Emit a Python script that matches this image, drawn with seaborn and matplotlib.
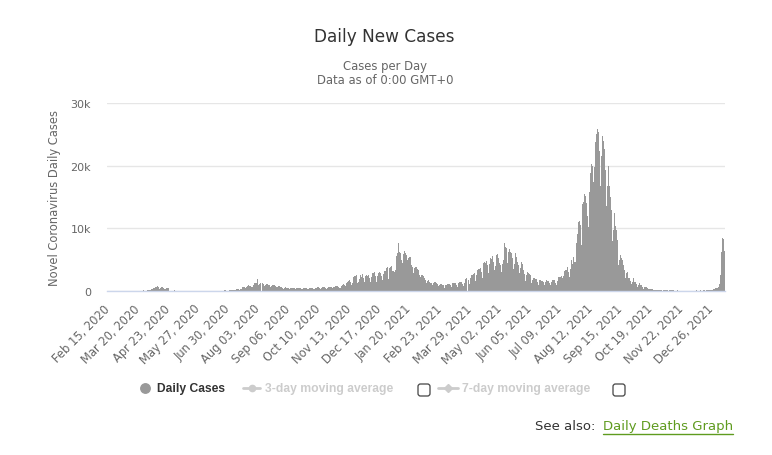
import matplotlib
matplotlib.use("Agg")
import matplotlib.pyplot as plt
import matplotlib.transforms as mtransforms
from matplotlib.lines import Line2D
from matplotlib.patches import FancyBboxPatch
from matplotlib.ticker import FuncFormatter
import numpy as np
import pandas as pd
import seaborn as sns

# --- data: daily new cases, one row per week starting Sat Feb 15, 2020 ---
first_day = "2020-02-15"
daily_cases = [
    1, 3, 7, 6, 10, 12, 9,                 # Feb 15
    5, 12, 14, 10, 20, 11, 25,
    8, 22, 20, 15, 33, 25, 34,
    27, 35, 26, 40, 59, 30, 40,            # Mar 07
    55, 35, 15, 20, 40, 40, 60,
    45, 42, 35, 55, 40, 80, 90,
    60, 70, 55, 80, 90, 160, 220,
    300, 240, 260, 450, 520, 580, 640,     # Apr 04
    720, 560, 380, 390, 520, 560, 600,
    460, 380, 330, 380, 420, 480, 470,
    70, 45, 40, 60, 70, 55, 150,
    60, 50, 30, 40, 35, 45, 40,            # May 02
    40, 25, 15, 20, 30, 35, 40,
    30, 20, 15, 25, 20, 25, 35,
    20, 15, 10, 20, 30, 25, 40,
    40, 35, 30, 35, 40, 45, 40,            # May 30
    50, 45, 30, 40, 50, 45, 50,
    55, 40, 35, 45, 60, 55, 65,
    70, 55, 40, 60, 75, 70, 80,
    85, 60, 50, 65, 80, 90, 160,
    110, 90, 80, 100, 110, 330, 380,       # Jul 04
    350, 250, 200, 290, 380, 640, 600,
    620, 500, 460, 660, 800, 900, 850,
    820, 700, 620, 1000, 1300, 1250, 1320,
    1250, 1850, 1000, 1100, 1250, 1400, 1200,  # Aug 01
    1300, 1050, 850, 950, 1100, 1050, 1000,
    1000, 900, 650, 850, 950, 900, 880,
    800, 650, 500, 650, 750, 800, 700,
    620, 450, 380, 530, 560, 590, 520,
    500, 420, 280, 480, 500, 530, 480,     # Sep 05
    460, 400, 270, 440, 500, 480, 490,
    520, 420, 270, 300, 420, 520, 470,
    480, 380, 260, 480, 520, 540, 500,
    510, 380, 280, 440, 500, 600, 580,     # Oct 03
    560, 420, 300, 500, 620, 640, 600,
    520, 400, 300, 450, 600, 620, 600,
    650, 500, 360, 650, 700, 720, 760,
    800, 580, 480, 520, 700, 850, 1000,
    1150, 950, 800, 1250, 1500, 1600, 1650,    # Nov 07
    1700, 1400, 900, 1200, 2200, 2350, 2400,
    2500, 2100, 1200, 1500, 1950, 2500, 2300,
    2650, 2050, 1450, 2000, 2400, 2500, 2450,
    2500, 2050, 1400, 2200, 2800, 2800, 2850,  # Dec 05
    3000, 2400, 1400, 2450, 2950, 3050, 2900,
    2850, 2450, 1800, 2650, 3200, 3250, 3700,
    3800, 2950, 1950, 3600, 3900, 4000, 3200,
    3150, 3050, 3300, 4900, 5600, 6000, 7700,  # Jan 02, 2021
    6300, 6000, 4900, 4500, 5900, 6500, 6400,
    6000, 5700, 4900, 5300, 5500, 5400, 4100,
    4000, 3900, 2800, 3600, 3800, 3800, 3500,
    3300, 2600, 1600, 2300, 2600, 2500, 2400,
    2100, 1700, 1200, 1550, 1700, 1800, 1500,  # Feb 06
    1350, 1300, 900, 1300, 1500, 1400, 1300,
    1200, 1050, 750, 1000, 1100, 1050, 1000,
    900, 750, 550, 900, 950, 1100, 1050,
    1050, 900, 620, 1100, 1300, 1250, 1300,    # Mar 06
    1300, 950, 700, 1200, 1400, 1500, 1500,
    1500, 1100, 850, 1350, 1900, 2000, 1900,
    2000, 1750, 1100, 2100, 2600, 2500, 2700,
    2800, 2400, 1600, 2600, 3400, 3500, 3500,  # Apr 03
    3700, 3000, 2100, 3400, 4500, 4600, 4500,
    4800, 4100, 2800, 4300, 5300, 5500, 5100,
    5600, 4600, 3300, 4000, 5800, 5900, 5200,
    5200, 4500, 4100, 3000, 4300, 5000, 7700,  # May 01
    7000, 6800, 5000, 4500, 6200, 6700, 6300,
    6000, 5300, 3500, 4300, 5800, 6000, 5500,
    4700, 4200, 2800, 3600, 4600, 4300, 3800,
    3400, 2700, 1600, 2600, 3000, 2800, 2700,
    2600, 2000, 1300, 1700, 2100, 2000, 1900,  # Jun 05
    1900, 1400, 900, 1300, 1700, 1700, 1600,
    1600, 1400, 900, 1400, 1700, 1700, 1600,
    1600, 1300, 900, 1500, 1800, 1750, 1750,
    1700, 1200, 950, 1600, 2200, 2200, 2300,   # Jul 03
    2450, 2000, 1500, 2400, 3200, 3400, 3300,
    3800, 3100, 2300, 3500, 4600, 4900, 4300,
    5400, 4700, 4700, 7600, 9100, 10700, 11000,
    11200, 10500, 7300, 13900, 14200, 15500, 15200,  # Jul 31
    15500, 14000, 12000, 10200, 15800, 18900, 20300,
    20000, 17400, 14300, 19800, 23800, 25000, 25900,
    25400, 22300, 16800, 21500, 24200, 24800, 23900,
    22700, 19300, 13600, 16800, 20000, 16800, 16700,
    15000, 13000, 7900, 9700, 12400, 10400, 9800,   # Sep 04
    8200, 7200, 4200, 5000, 5800, 5300, 5000,
    4200, 3400, 2100, 1700, 2900, 3000, 2100,
    2000, 1600, 1100, 1500, 2100, 1600, 1400,
    1450, 1100, 600, 900, 1200, 900, 900,      # Oct 02
    800, 650, 370, 600, 700, 620, 500,
    300, 280, 170, 250, 260, 240, 230,
    220, 200, 110, 180, 230, 200, 190,
    180, 160, 70, 120, 150, 160, 120,
    110, 90, 60, 80, 100, 120, 100,            # Nov 06
    80, 60, 40, 60, 70, 80, 70,
    60, 50, 30, 50, 60, 60, 50,
    50, 40, 30, 60, 70, 60, 70,
    60, 50, 40, 60, 70, 80, 60,                # Dec 04
    70, 60, 40, 80, 70, 70, 80,
    90, 80, 60, 130, 160, 170, 180,
    200, 180, 150, 250, 300, 280, 420,
    450, 480, 600, 1100, 2600, 4400, 6200,     # Jan 01, 2022
    8480, 8249, 6438,
]
tick_step = 34
y_ticks = [0, 10000, 20000, 30000]
legend_items = ["Daily Cases", "3-day moving average", "7-day moving average"]

dates = pd.date_range(first_day, periods=len(daily_cases), freq="D")
df = pd.DataFrame({"date": dates.strftime("%b %d, %Y"), "cases": daily_cases})

sns.set_style("white")
plt.rcParams["font.family"] = ["DejaVu Sans"]

W, H = 772, 456
fig = plt.figure(figsize=(W / 100, H / 100), dpi=100)
fig.patch.set_facecolor("white")
ax = fig.add_axes([107 / W, 1 - 292 / H, 618 / W, 188 / H])

sns.barplot(data=df, x="date", y="cases", color="#999999", saturation=1,
            width=1.0, linewidth=0, errorbar=None, ax=ax)

ax.set_xlim(-0.5, len(daily_cases) - 0.5)
ax.set_ylim(0, 30000)
ax.set_yticks(y_ticks)
ax.yaxis.set_major_formatter(FuncFormatter(lambda v, _: "0" if v == 0 else f"{int(v / 1000)}k"))
ticks = list(range(0, len(daily_cases), tick_step))
ax.set_xticks(ticks)
ax.set_xticklabels(df["date"].iloc[ticks], rotation=45, ha="right",
                   va="center", rotation_mode="anchor")
ax.tick_params(axis="x", length=0, pad=11, labelsize=8.3, labelcolor="#666666")
ax.tick_params(axis="y", length=0, pad=11.5, labelsize=8, labelcolor="#666666")
ax.yaxis.grid(True, color="#e6e6e6", linewidth=1)
ax.set_axisbelow(True)
for side in ["top", "right", "left"]:
    ax.spines[side].set_visible(False)
ax.spines["bottom"].set_color("#ccd6eb")
ax.spines["bottom"].set_linewidth(1)
ax.set_xlabel("")
ax.set_ylabel("Novel Coronavirus Daily Cases", fontsize=8.3, color="#666666")
ax.yaxis.set_label_coords(-0.075, 0.5)

# pixel coordinates measured from the top-left corner
top_px = mtransforms.Affine2D().scale(1, -1).translate(0, H)

fig.text(384, 37, "Daily New Cases", transform=top_px, ha="center", va="center",
         fontsize=12.2, color="#333333")
fig.text(385, 67, "Cases per Day", transform=top_px, ha="center", va="center",
         fontsize=8.35, color="#666666")
fig.text(385, 81, "Data as of 0:00 GMT+0", transform=top_px, ha="center", va="center",
         fontsize=8.35, color="#666666")

# legend row
leg_font = dict(family="Liberation Sans", weight="bold", fontsize=8.7)
fig.add_artist(Line2D([145], [389], transform=top_px, marker="o", markersize=6.8,
                      color="#999999", linestyle="none"))
fig.text(157, 389, legend_items[0], transform=top_px, va="center", color="#333333", **leg_font)
fig.add_artist(Line2D([243, 260], [389, 389], transform=top_px, color="#cccccc", lw=2))
fig.add_artist(Line2D([251.5], [389], transform=top_px, marker="o", markersize=4.5,
                      color="#cccccc", linestyle="none"))
fig.text(265, 389, legend_items[1], transform=top_px, va="center", color="#cccccc", **leg_font)
fig.add_artist(Line2D([438, 458], [389, 389], transform=top_px, color="#cccccc", lw=2))
fig.add_artist(Line2D([448], [389], transform=top_px, marker="D", markersize=4,
                      color="#cccccc", linestyle="none"))
fig.text(462, 389, legend_items[2], transform=top_px, va="center", color="#cccccc", **leg_font)
for bx in (418, 613):
    fig.add_artist(FancyBboxPatch((bx, 385), 12, 12, transform=top_px,
                                  boxstyle="round,pad=0,rounding_size=2.5",
                                  facecolor="white", edgecolor="#444444", lw=0.9))

# see also link
fig.text(535, 427, "See also:", transform=top_px, va="center", fontsize=9.5, color="#333333")
link = fig.text(603, 427, "Daily Deaths Graph", transform=top_px, va="center",
                fontsize=9.5, color="#5f9b1f")
fig.canvas.draw()
bb = link.get_window_extent()
fig.add_artist(Line2D([bb.x0, bb.x1], [bb.y0 - 1, bb.y0 - 1], color="#5f9b1f", lw=1,
                      transform=mtransforms.IdentityTransform()))

fig.savefig("out.png", dpi=100, facecolor="white")
